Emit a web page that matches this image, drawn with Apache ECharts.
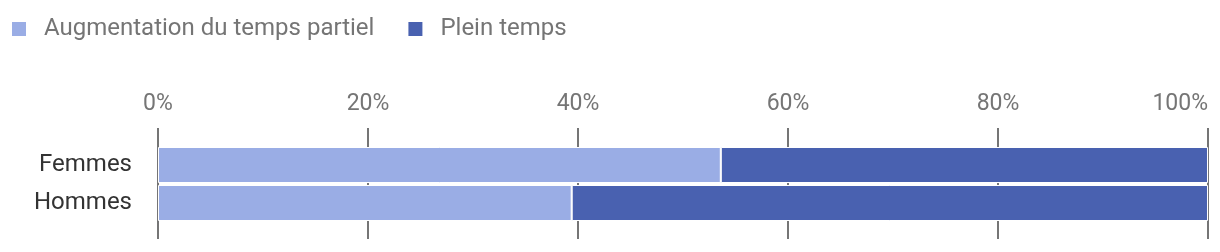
<!DOCTYPE html>
<html><head><meta charset="utf-8">
<script src="https://cdn.jsdelivr.net/npm/echarts@6/dist/echarts.min.js"></script>
<style>html,body{margin:0;padding:0;background:#fff}#c{width:1220px;height:252px}</style>
</head><body><div id="c"></div>
<script>
const categories = ['Femmes', 'Hommes'];
const seriesNames = ['Augmentation du temps partiel', 'Plein temps'];
const partTime = [53.6, 39.4];
const fullTime = [46.4, 60.6];
const tickValues = [0, 20, 40, 60, 80, 100];

const chart = echarts.init(document.getElementById('c'));
const font = 'Roboto';
chart.setOption({
  animation: false,
  color: ['#9aade5', '#4961b0'],
  legend: {
    left: 5, top: 12, itemWidth: 16, itemHeight: 16, itemGap: 32,
    icon: 'rect',
    textStyle: { fontFamily: font, fontSize: 24, color: '#757575', padding: [0, 0, 0, 12] },
    data: seriesNames
  },
  grid: [
    { left: 158, right: 12, top: 128, bottom: 13 },
    { left: 158, right: 12, top: 146, height: 76 }
  ],
  xAxis: [
    { gridIndex: 0, type: 'value', position: 'top', min: 0, max: 100, interval: 20,
      axisLine: { show: false }, axisTick: { show: false },
      splitLine: { show: true, lineStyle: { color: '#757575', width: 2 } },
      axisLabel: { formatter: v => v + '%', fontFamily: font, fontSize: 23, color: '#757575',
        margin: 12, alignMaxLabel: 'right' } },
    { gridIndex: 1, type: 'value', min: 0, max: 100, show: false }
  ],
  yAxis: [
    { gridIndex: 0, type: 'value', show: false },
    { gridIndex: 1, type: 'category', inverse: true, data: categories,
      axisLine: { show: false }, axisTick: { show: false },
      axisLabel: { fontFamily: font, fontSize: 24, color: '#333', margin: 26,
        verticalAlign: 'middle', padding: [6, 0, 0, 0] } }
  ],
  series: [
    { name: seriesNames[0], type: 'bar', stack: 's', xAxisIndex: 1, yAxisIndex: 1, barWidth: 36,
      itemStyle: { borderColor: '#fff', borderWidth: 1 }, data: partTime },
    { name: seriesNames[1], type: 'bar', stack: 's', xAxisIndex: 1, yAxisIndex: 1, barWidth: 36,
      itemStyle: { borderColor: '#fff', borderWidth: 1 }, data: fullTime }
  ]
});
</script></body></html>
